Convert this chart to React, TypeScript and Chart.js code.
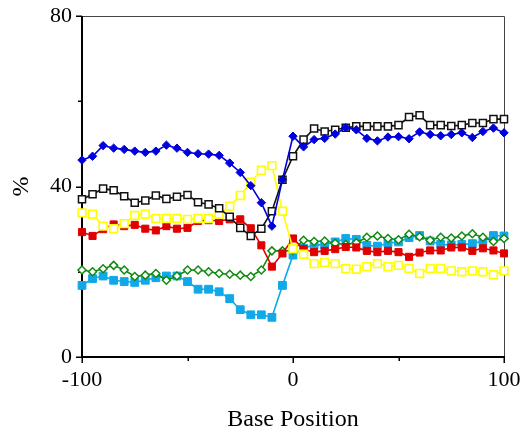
import React, { useEffect, useRef } from "react";
import { Chart, registerables } from "chart.js";

Chart.register(...registerables);

const positions = [-100, -95, -90, -85, -80, -75, -70, -65, -60, -55, -50, -45, -40, -35, -30, -25, -20, -15, -10, -5, 0, 5, 10, 15, 20, 25, 30, 35, 40, 45, 50, 55, 60, 65, 70, 75, 80, 85, 90, 95, 100];

const blueSeries = [46.2, 47.1, 49.6, 49.0, 48.7, 48.3, 48.0, 48.3, 49.7, 49.0, 48.0, 47.7, 47.6, 47.3, 45.5, 43.3, 40.2, 36.2, 30.7, 41.6, 51.8, 49.3, 51.0, 51.3, 52.3, 53.8, 53.3, 51.3, 50.7, 51.6, 51.7, 51.2, 52.8, 52.2, 51.9, 52.2, 52.6, 51.5, 52.9, 53.7, 52.6];
const blackSeries = [37.0, 38.2, 39.5, 39.1, 37.7, 36.2, 36.7, 37.9, 37.1, 37.6, 38.0, 36.3, 35.8, 34.9, 32.9, 30.3, 28.4, 30.1, 34.2, 41.6, 47.1, 51.0, 53.6, 52.9, 53.3, 53.8, 54.1, 54.1, 54.1, 54.1, 54.4, 56.3, 56.7, 54.4, 54.4, 54.2, 54.4, 54.9, 54.9, 55.8, 55.8];
const yellowSeries = [33.8, 33.5, 30.7, 30.1, 31.3, 33.2, 33.5, 32.5, 32.5, 32.5, 32.3, 32.5, 32.5, 33.5, 35.4, 37.9, 41.0, 43.8, 44.9, 34.2, 25.4, 24.1, 21.9, 22.2, 21.9, 20.7, 20.6, 21.2, 21.9, 21.2, 21.5, 20.8, 19.6, 20.8, 20.8, 20.2, 20.0, 20.2, 20.0, 19.3, 20.2];
const redSeries = [29.3, 28.4, 30.0, 31.1, 30.7, 31.0, 30.1, 29.7, 30.7, 30.1, 30.3, 31.9, 32.1, 31.9, 32.3, 32.3, 30.2, 26.2, 21.2, 24.3, 27.8, 25.3, 24.6, 24.9, 25.3, 25.8, 25.7, 24.9, 24.6, 24.9, 24.6, 23.5, 24.5, 25.0, 25.0, 25.7, 25.7, 24.9, 25.5, 25.0, 24.3];
const greenSeries = [20.4, 20.0, 20.7, 21.5, 20.4, 18.9, 19.2, 19.6, 18.0, 19.0, 20.4, 20.4, 20.0, 19.6, 19.4, 19.2, 18.9, 20.4, 24.9, 24.9, 25.0, 27.4, 27.1, 27.2, 26.7, 26.4, 26.8, 28.1, 28.4, 27.8, 27.5, 28.8, 28.2, 27.4, 28.1, 27.9, 28.4, 28.9, 28.1, 27.1, 27.8];
const cyanSeries = [16.8, 18.4, 19.0, 18.0, 17.7, 17.5, 18.0, 18.6, 19.0, 19.0, 17.7, 15.9, 15.9, 15.3, 13.7, 11.1, 9.9, 9.9, 9.3, 16.8, 23.9, 25.5, 26.3, 26.3, 27.0, 27.8, 27.6, 26.2, 26.0, 26.7, 27.0, 28.0, 28.5, 27.2, 26.4, 26.3, 26.4, 26.6, 27.2, 28.5, 28.4];

const xMajorTicks = [-100, 0, 100];
const xMinorTicks = [-50, 50];
const yMajorTicks = [0, 40, 80];
const yMinorTicks = [20, 60];

const xTitle = "Base Position";
const yTitle = "%";

const FONT = "'Liberation Serif', 'Times New Roman', serif";

const toPoints = (vals: number[]) => positions.map((x, i) => ({ x, y: vals[i] }));

const framePlugin = {
  id: "frame",
  beforeDatasetsDraw(chart: any) {
    const { ctx, chartArea } = chart;
    const { left, right, top, bottom } = chartArea;
    const xs = chart.scales.x;
    const ys = chart.scales.y;
    ctx.save();
    ctx.strokeStyle = "#444";
    ctx.lineWidth = 1;
    ctx.beginPath();
    ctx.moveTo(left, top + 0.5);
    ctx.lineTo(right + 0.5, top + 0.5);
    ctx.lineTo(right + 0.5, bottom);
    ctx.stroke();
    ctx.strokeStyle = "#000";
    ctx.lineWidth = 2;
    ctx.beginPath();
    ctx.moveTo(left, top);
    ctx.lineTo(left, bottom);
    ctx.lineTo(right + 1, bottom);
    ctx.stroke();
    ctx.lineWidth = 1.5;
    ctx.beginPath();
    yMajorTicks.forEach((v) => {
      const p = Math.round(ys.getPixelForValue(v)) + 0.25;
      ctx.moveTo(left - 6, p);
      ctx.lineTo(left, p);
    });
    yMinorTicks.forEach((v) => {
      const p = Math.round(ys.getPixelForValue(v)) + 0.25;
      ctx.moveTo(left - 4, p);
      ctx.lineTo(left, p);
    });
    xMajorTicks.forEach((v) => {
      const p = Math.round(xs.getPixelForValue(v)) + 0.25;
      ctx.moveTo(p, bottom);
      ctx.lineTo(p, bottom + 6);
    });
    xMinorTicks.forEach((v) => {
      const p = Math.round(xs.getPixelForValue(v)) + 0.25;
      ctx.moveTo(p, bottom);
      ctx.lineTo(p, bottom + 4);
    });
    ctx.stroke();
    ctx.restore();
  },
};

export default function App() {
  const canvasRef = useRef<HTMLCanvasElement | null>(null);

  useEffect(() => {
    if (!canvasRef.current) return;
    const mk = (
      label: string,
      vals: number[],
      color: string,
      style: string,
      radius: number,
      fill: string,
      borderW: number
    ) => ({
      label,
      data: toPoints(vals),
      borderColor: color,
      backgroundColor: fill,
      borderWidth: 1.6,
      pointStyle: style,
      pointRadius: radius,
      pointBorderColor: color,
      pointBackgroundColor: fill,
      pointBorderWidth: borderW,
      tension: 0,
      clip: false,
    });

    const chart = new Chart(canvasRef.current, {
      type: "line",
      data: {
        datasets: [
          mk("blue", blueSeries, "#0000dd", "rectRot", 4.2, "#0000dd", 1),
          mk("black", blackSeries, "#111111", "rect", 5, "#ffffff", 1.5),
          mk("yellow", yellowSeries, "#ffff00", "rect", 5.5, "#ffffff", 1.6),
          mk("red", redSeries, "#e00000", "rect", 5, "#e00000", 1),
          mk("green", greenSeries, "#108a10", "rectRot", 4, "#ffffff", 1.5),
          mk("cyan", cyanSeries, "#10a8e8", "rect", 5.5, "#10a8e8", 1),
        ] as any,
      },
      options: {
        animation: false,
        responsive: false,
        maintainAspectRatio: false,
        layout: { padding: { left: 0, right: 24, top: 16, bottom: 0 } },
        plugins: {
          legend: { display: false },
          tooltip: { enabled: false },
        },
        scales: {
          x: {
            type: "linear",
            min: -100,
            max: 100,
            afterFit: (s: any) => {
              s.height = 77;
              s.paddingLeft = 0;
              s.paddingRight = 0;
            },
            afterBuildTicks: (s: any) => {
              s.ticks = xMajorTicks.map((v) => ({ value: v }));
            },
            border: { display: false },
            grid: { display: false, drawTicks: false },
            ticks: {
              padding: 10,
              color: "#000",
              font: { family: FONT, size: 22 },
              maxRotation: 0,
              autoSkip: false,
              callback: (v: any) => String(v),
            },
            title: {
              display: true,
              text: xTitle,
              color: "#000",
              font: { family: FONT, size: 24 },
              padding: { top: 0, bottom: 0 },
            },
          },
          y: {
            type: "linear",
            min: 0,
            max: 80,
            afterFit: (s: any) => {
              s.width = 82;
              s.paddingTop = 0;
              s.paddingBottom = 0;
            },
            afterBuildTicks: (s: any) => {
              s.ticks = yMajorTicks.map((v) => ({ value: v }));
            },
            border: { display: false },
            grid: { display: false, drawTicks: false },
            ticks: {
              padding: 10,
              color: "#000",
              font: { family: FONT, size: 22 },
              autoSkip: false,
              callback: (v: any) => String(v),
            },
            title: {
              display: true,
              text: yTitle,
              color: "#000",
              font: { family: FONT, size: 24 },
              padding: { top: 7, bottom: 0 },
            },
          },
        },
      } as any,
      plugins: [framePlugin],
    });
    return () => chart.destroy();
  }, []);

  return (
    <div style={{ position: "fixed", left: 0, top: 0, width: 528, height: 434, background: "#fff" }}>
      <canvas ref={canvasRef} width={528} height={434} style={{ width: 528, height: 434, display: "block" }} />
    </div>
  );
}
